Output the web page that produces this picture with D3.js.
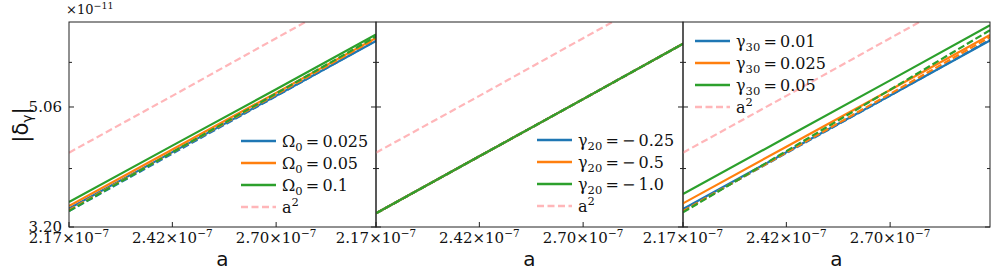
<!DOCTYPE html>
<html>
<head>
<meta charset="utf-8">
<script src="https://cdn.jsdelivr.net/npm/d3@7/dist/d3.min.js"></script>
<style>
  body { margin: 0; background: #fff; }
  svg { display: block; }
</style>
</head>
<body>
<div id="okvir"></div>
<script>
// sample points along a (x axis)
const aGrid = [2.17e-7, 2.42e-7, 2.70e-7, 3.0e-7];
const aTicks = [2.17e-7, 2.42e-7, 2.70e-7];
const yTicks = [3.20, 5.06];          // x 1e-11
const yMinor = [4, 6];
const series_colors = ["#1f77b4", "#ff7f0e", "#2ca02c"];

// |delta_gamma| values (x 1e-11) at aGrid
const omegaLabels = ["0.025", "0.05", "0.1"];
const omegaSolid = [
  [3.434, 4.259, 5.283, 6.510],
  [3.467, 4.303, 5.341, 6.585],
  [3.520, 4.366, 5.416, 6.674]
];
const omegaDashed = [
  [3.401, 4.235, 5.274, 6.523],
  [3.414, 4.256, 5.307, 6.572],
  [3.401, 4.256, 5.328, 6.623]
];

const gamma20Labels = ["\u2212\u20090.25", "\u2212\u20090.5", "\u2212\u20091.0"];
const gamma20Solid = [
  [3.371, 4.192, 5.214, 6.441],
  [3.371, 4.192, 5.214, 6.441],
  [3.371, 4.192, 5.214, 6.441]
];
const gamma20Dashed = [
  [3.371, 4.192, 5.214, 6.441],
  [3.371, 4.192, 5.214, 6.441],
  [3.371, 4.192, 5.214, 6.441]
];

const gamma30Labels = ["0.01", "0.025", "0.05"];
const gamma30Solid = [
  [3.427, 4.256, 5.287, 6.523],
  [3.502, 4.348, 5.400, 6.661],
  [3.628, 4.508, 5.602, 6.914]
];
const gamma30Dashed = [
  [3.408, 4.244, 5.286, 6.540],
  [3.401, 4.253, 5.321, 6.610],
  [3.384, 4.276, 5.405, 6.783]
];

const aSquared = [4.25, 5.28, 6.58, 8.12];

const dim = { sirina: 996, visina: 273, top: 22, grVisina: 205, grSirina: 307 };
const paneli = [
  { left: 69, sym: "\u03a9", sub: "0", labels: omegaLabels, solid: omegaSolid, dashed: omegaDashed, leg: { x: 241, y: 141 } },
  { left: 376, sym: "\u03b3", sub: "20", labels: gamma20Labels, solid: gamma20Solid, dashed: gamma20Dashed, leg: { x: 537, y: 140 } },
  { left: 683, sym: "\u03b3", sub: "30", labels: gamma30Labels, solid: gamma30Solid, dashed: gamma30Dashed, leg: { x: 695, y: 41 } }
];

const x = d3.scaleLog().domain([2.17e-7, 3.0e-7]).range([0, dim.grSirina]);
const y = d3.scaleLog().domain([3.2, 7.0]).range([dim.grVisina, 0]);
const line = d3.line().x((d, i) => x(aGrid[i])).y(d => y(d));

const svg = d3.select("#okvir").append("svg")
  .attr("width", dim.sirina).attr("height", dim.visina);

const serif = "'DejaVu Serif', 'Liberation Serif', serif";
const sans = "'DejaVu Sans', sans-serif";

function tickLabel(sel, mant, exp) {
  sel.append("tspan").text(mant + "\u00d710");
  sel.append("tspan").attr("font-size", 10.5).attr("dy", -6).text(exp);
}

paneli.forEach((p, pi) => {
  const g = svg.append("g").attr("transform", `translate(${p.left},${dim.top})`);
  const clipId = "clip" + pi;
  g.append("clipPath").attr("id", clipId).append("rect")
    .attr("width", dim.grSirina).attr("height", dim.grVisina);
  const plot = g.append("g").attr("clip-path", `url(#${clipId})`);

  p.solid.forEach((s, i) => {
    plot.append("path").attr("d", line(s)).attr("fill", "none")
      .attr("stroke", series_colors[i]).attr("stroke-width", 2.2);
  });
  p.dashed.forEach((s, i) => {
    plot.append("path").attr("d", line(s)).attr("fill", "none")
      .attr("stroke", series_colors[i]).attr("stroke-width", 2.2)
      .attr("stroke-dasharray", "7,3");
  });
  plot.append("path").attr("d", line(aSquared)).attr("fill", "none")
    .attr("stroke", "#ffb6b9").attr("stroke-width", 2.2)
    .attr("stroke-dasharray", "7,3.5");

  // frame
  g.append("rect").attr("width", dim.grSirina).attr("height", dim.grVisina)
    .attr("fill", "none").attr("stroke", "#222").attr("stroke-width", 1);

  // y ticks (inward, both sides)
  yTicks.forEach(t => {
    g.append("line").attr("x1", 0).attr("x2", 5).attr("y1", y(t)).attr("y2", y(t)).attr("stroke", "#222");
    g.append("line").attr("x1", dim.grSirina - 5).attr("x2", dim.grSirina).attr("y1", y(t)).attr("y2", y(t)).attr("stroke", "#222");
  });
  yMinor.forEach(t => {
    g.append("line").attr("x1", 0).attr("x2", 3).attr("y1", y(t)).attr("y2", y(t)).attr("stroke", "#222");
    g.append("line").attr("x1", dim.grSirina - 3).attr("x2", dim.grSirina).attr("y1", y(t)).attr("y2", y(t)).attr("stroke", "#222");
  });

  // x ticks
  aTicks.forEach(t => {
    g.append("line").attr("x1", x(t)).attr("x2", x(t))
      .attr("y1", dim.grVisina).attr("y2", dim.grVisina - 5).attr("stroke", "#222");
    const lab = g.append("text").attr("x", x(t)).attr("y", dim.grVisina + 16)
      .attr("text-anchor", "middle").attr("font-family", serif).attr("font-size", 15)
      .attr("fill", "#111");
    tickLabel(lab, (t * 1e7).toFixed(2), "\u22127");
  });

  // x label
  g.append("text").attr("x", dim.grSirina / 2).attr("y", dim.grVisina + 39)
    .attr("text-anchor", "middle").attr("font-family", sans).attr("font-size", 20)
    .attr("fill", "#111").text("a");

  // legend
  const leg = g.append("g").attr("transform", `translate(${p.leg.x - p.left},${p.leg.y - dim.top})`);
  const rows = p.labels.map((l, i) => ({ l, c: series_colors[i], dash: null }));
  rows.push({ l: null, c: "#ffb6b9", dash: "7,3.5" });
  rows.forEach((r, i) => {
    const ry = i * 22;
    leg.append("line").attr("x1", 0).attr("x2", 35).attr("y1", ry).attr("y2", ry)
      .attr("stroke", r.c).attr("stroke-width", 2.5).attr("stroke-dasharray", r.dash);
    const t = leg.append("text").attr("x", 41).attr("y", ry + 6)
      .attr("font-family", serif).attr("font-size", 16).attr("fill", "#111");
    if (r.l === null) {
      t.append("tspan").text("a");
      t.append("tspan").attr("font-size", 11.5).attr("dy", -7).text("2");
    } else {
      t.append("tspan").text(p.sym);
      t.append("tspan").attr("font-size", 11.5).attr("dy", 4).text(p.sub);
      t.append("tspan").attr("dy", -4).text("\u2009=\u2009" + r.l);
    }
  });
});

// y tick labels (first panel)
const g0 = svg.append("g").attr("transform", `translate(${paneli[0].left},${dim.top})`);
yTicks.forEach(t => {
  g0.append("text").attr("x", -7).attr("y", y(t) + 5)
    .attr("text-anchor", "end").attr("font-family", serif).attr("font-size", 15)
    .attr("fill", "#111").text(t.toFixed(2));
});
// offset text
const off = svg.append("text").attr("x", 66).attr("y", 14)
  .attr("font-family", serif).attr("font-size", 13).attr("fill", "#111");
off.append("tspan").text("\u00d710");
off.append("tspan").attr("font-size", 9.5).attr("dy", -5).text("\u221211");

// y label
svg.append("text").attr("transform", "translate(28,125) rotate(-90)")
  .attr("text-anchor", "middle").attr("font-family", sans).attr("font-size", 21)
  .attr("fill", "#111")
  .call(t => {
    t.append("tspan").text("|\u03b4");
    t.append("tspan").attr("font-size", 14).attr("dy", 4).text("\u03b3");
    t.append("tspan").attr("dy", -4).text("|");
  });
</script>
</body>
</html>
